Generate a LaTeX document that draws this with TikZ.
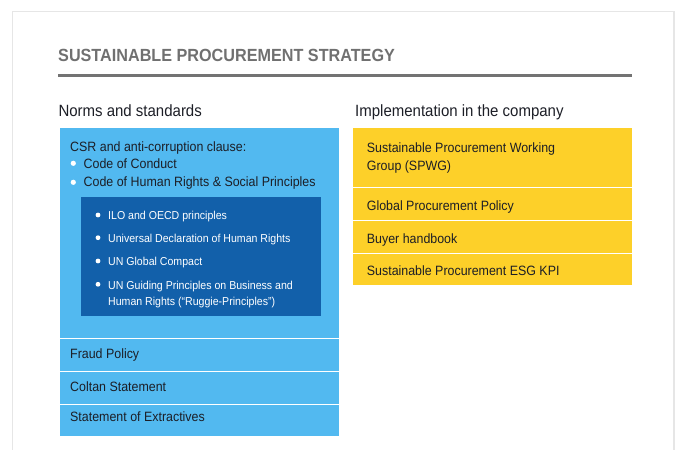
\documentclass[tikz,border=0pt]{standalone}
\usepackage{fontspec}
\setmainfont{Liberation Sans}[FakeStretch=0.92]
\usetikzlibrary{positioning}

\definecolor{framegray}{RGB}{230,230,230}
\definecolor{titlegray}{RGB}{112,112,112}
\definecolor{rulegray}{RGB}{115,115,115}
\definecolor{inkdark}{RGB}{28,30,38}
\definecolor{skyblue}{RGB}{82,185,240}
\definecolor{deepblue}{RGB}{18,96,170}
\definecolor{sunyellow}{RGB}{253,208,41}

\tikzset{
  normseg/.style={fill=skyblue, draw=white, line width=0.8pt, minimum width=280pt, inner sep=0pt, outer sep=0pt},
  implseg/.style={fill=sunyellow, draw=white, line width=0.8pt, minimum width=280pt, inner sep=0pt, outer sep=0pt},
  boxtext/.style={anchor=base west, inner sep=0pt, text=inkdark, font=\fontsize{13.5}{18.4}\selectfont, align=left},
  innertext/.style={anchor=base west, inner sep=0pt, text=white, font=\fontsize{11.5}{15.7}\selectfont, align=left},
  heading/.style={anchor=base west, inner sep=0pt, text=inkdark, font=\fontsize{16.3}{20}\selectfont}
}

\begin{document}
\begin{tikzpicture}[x=1pt,y=-1pt]
  \useasboundingbox (0,0) rectangle (680,450);
  \draw[framegray, line width=1.2pt] (12.7,450) -- (12.7,11.7) -- (674,11.7) -- (674,450);

  \node[anchor=base west, inner sep=0pt, text=titlegray, font=\fontsize{17.6}{20}\selectfont\bfseries] (title) at (58,61) {SUSTAINABLE PROCUREMENT STRATEGY};
  \draw[rulegray, line width=3.2pt] (58,75.8) -- (632,75.8);

  \node[heading] (norms) at (58.3,116) {Norms and standards};
  \node[heading] (impl) at (355,116.5) {Implementation in the company};

  \node[normseg, anchor=north west, minimum height=211pt] (csr) at (59.5,127.5) {};
  \node[normseg, minimum height=32.7pt, below=0pt of csr] (fraud) {};
  \node[normseg, minimum height=32.8pt, below=0pt of fraud] (coltan) {};
  \node[normseg, minimum height=32pt, below=0pt of coltan] (extract) {};
  \node[fill=deepblue, anchor=north west, minimum width=239.7pt, minimum height=119pt, inner sep=0pt] (ungp) at (81,196.7) {};

  \node[implseg, anchor=north west, minimum height=60.3pt] (spwg) at (352,127.5) {};
  \node[implseg, minimum height=32.4pt, below=0pt of spwg] (gpp) {};
  \node[implseg, minimum height=33.1pt, below=0pt of gpp] (buyer) {};
  \node[implseg, minimum height=32.4pt, below=0pt of buyer] (kpi) {};

  \node[boxtext] (csrhead) at (70,151) {CSR and anti-corruption clause:};
  \node[boxtext] (coc) at (83.5,168.3) {Code of Conduct};
  \node[boxtext] (chr) at (83.5,186.7) {Code of Human Rights \& Social Principles};
  \foreach \y in {163.3,182.3} \fill[white] (73.3,\y) circle (2.6);

  \node[innertext] (ilo) at (108,219.3) {ILO and OECD principles};
  \node[innertext] (udhr) at (108,242.3) {Universal Declaration of Human Rights};
  \node[innertext] (ungc) at (108,265.7) {UN Global Compact};
  \node[innertext] (ruggie) at (108,305) {UN Guiding Principles on Business and\\Human Rights (“Ruggie-Principles”)};
  \foreach \y in {215,237.7,261,284.3} \fill[white] (98,\y) circle (2.4);

  \node[boxtext] (fraudtxt) at (70,358.3) {Fraud Policy};
  \node[boxtext] (coltantxt) at (70,391.7) {Coltan Statement};
  \node[boxtext] (extracttxt) at (70,421.7) {Statement of Extractives};

  \node[boxtext] (spwgtxt) at (366.7,170.7) {Sustainable Procurement Working\\Group (SPWG)};
  \node[boxtext] (gpptxt) at (366.7,210) {Global Procurement Policy};
  \node[boxtext] (buyertxt) at (366.7,243.3) {Buyer handbook};
  \node[boxtext] (kpitxt) at (366.7,275) {Sustainable Procurement ESG KPI};
\end{tikzpicture}
\end{document}
